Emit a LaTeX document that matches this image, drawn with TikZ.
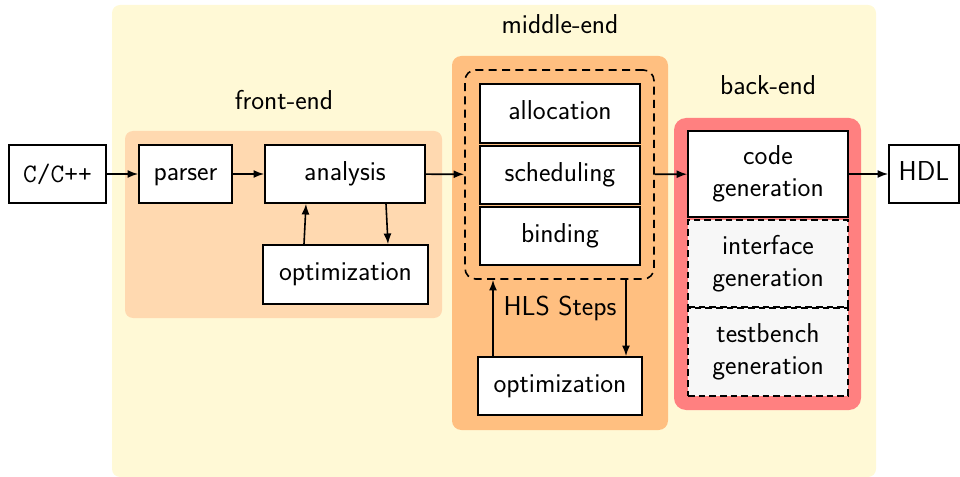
\documentclass[tikz,border=0pt]{standalone}
\usetikzlibrary{arrows.meta,calc}
\definecolor{bgyellow}{HTML}{FFF9D6}
\definecolor{bgpeach}{HTML}{FFD9B0}
\definecolor{bgorange}{HTML}{FFBF80}
\definecolor{bgred}{HTML}{FF8080}
\definecolor{boxgray}{HTML}{F7F7F7}
\begin{document}
\begin{tikzpicture}[x=0.75pt,y=-0.75pt,
  font=\sffamily\fontsize{20.5}{24}\selectfont,
  box/.style={draw,line width=1.2pt,fill=white,inner sep=0pt,align=center,minimum width=120pt,minimum height=43.5pt},
  one/.style={text height=14pt,text depth=4.5pt},
  dbox/.style={box,dash pattern=on 5pt off 3pt,fill=boxgray},
  arr/.style={line width=1.2pt,-{Latex[length=8pt,width=6pt]}},
  lbl/.style={inner sep=0pt}]
\useasboundingbox (0,0) rectangle (960,477);
% backgrounds
\fill[bgyellow,rounded corners=6pt] (112,5) rectangle (876,477);
\fill[bgpeach,rounded corners=6pt] (125,131) rectangle (442,318);
\fill[bgorange,rounded corners=7pt] (452,56) rectangle (668,430);
\fill[bgred,rounded corners=9pt] (674,118) rectangle (861,410);
% labels
\node[lbl] (lmid) at (560,24) {middle-end};
\node[lbl] (lfront) at (284,100) {front-end};
\node[lbl] (lback) at (768,85) {back-end};
% nodes
\node[box,minimum width=72.75pt,font=\ttfamily\fontsize{20}{24}\selectfont] (cpp) at (57.5,174) {C/C++};
\node[box,one,minimum width=69.75pt] (parser) at (185.5,174) {parser};
\node[box,one] (analysis) at (345,174) {analysis};
\node[box,one,minimum width=123.75pt,minimum height=44.25pt] (opt1) at (345.5,274.5) {optimization};
\node[draw,dash pattern=on 6pt off 4pt,line width=1.2pt,rounded corners=8pt,minimum width=141.75pt,minimum height=156.75pt,inner sep=0pt] (hls) at (559.5,174.5) {};
\node[box,one,minimum height=44.25pt] (alloc) at (560,113.5) {allocation};
\node[box,one] (sched) at (560,175) {scheduling};
\node[box,one] (bind) at (560,236) {binding};
\node[lbl] (hlslbl) at (560,308) {HLS Steps};
\node[box,one,minimum width=123pt] (opt2) at (560,386) {optimization};
\node[box,minimum height=64.5pt] (code) at (768,174) {code\\generation};
\node[dbox,minimum height=65.25pt] (iface) at (768,263.5) {interface\\generation};
\node[dbox,minimum height=66pt] (tb) at (768,352) {testbench\\generation};
\node[box,one,minimum width=52.5pt] (hdl) at (924,174) {HDL};
% connectors
\draw[arr] (cpp) -- (parser);
\draw[arr] (parser) -- (analysis);
\draw[arr] ($(analysis.south)+(41,0)$) -- ($(opt1.north)+(42.5,0)$);
\draw[arr] ($(opt1.north)+(-41.5,0)$) -- ($(analysis.south)+(-39,0)$);
\draw[arr] (analysis) -- (hls);
\draw[arr] ($(opt2.north)+(-67,0)$) -- ($(hls.south)+(-66.5,0)$);
\draw[arr] ($(hls.south)+(66.5,0)$) -- ($(opt2.north)+(66,0)$);
\draw[arr] (hls) -- (code);
\draw[arr] (code) -- (hdl);
\end{tikzpicture}
\end{document}
